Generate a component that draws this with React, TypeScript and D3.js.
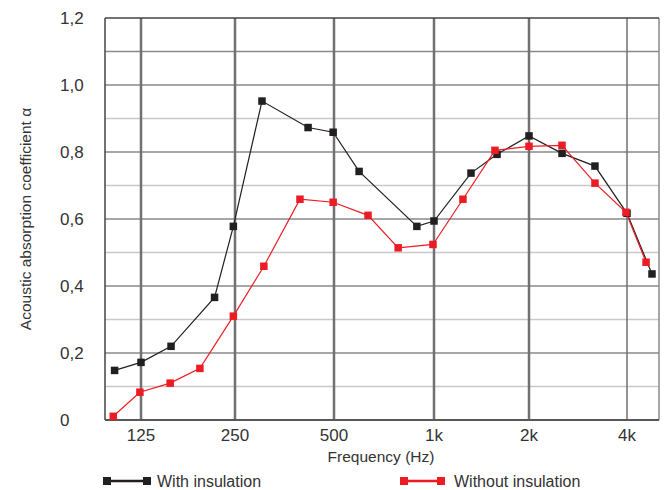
import React from "react";
import * as d3 from "d3";

const yTicks = [0, 0.2, 0.4, 0.6, 0.8, 1.0, 1.2];
const yTickLabels = ["0", "0,2", "0,4", "0,6", "0,8", "1,0", "1,2"];
const yGrid = [0.1, 0.2, 0.3, 0.4, 0.5, 0.6, 0.7, 0.8, 0.9, 1.0, 1.1];
const xTicks = [125, 250, 500, 1000, 2000, 4000];
const xTickLabels = ["125", "250", "500", "1k", "2k", "4k"];

const withFreq = [103, 125, 156, 215, 247, 302, 417, 497, 595, 888, 1000, 1310, 1584, 2000, 2526, 3189, 4000, 4784];
const withVals = [0.148, 0.172, 0.22, 0.366, 0.578, 0.952, 0.873, 0.859, 0.742, 0.578, 0.594, 0.737, 0.793, 0.848, 0.796, 0.758, 0.617, 0.436];

const withoutFreq = [102, 124, 155, 193, 247, 306, 394, 497, 633, 780, 993, 1235, 1560, 2000, 2526, 3189, 3970, 4585];
const withoutVals = [0.011, 0.083, 0.11, 0.154, 0.31, 0.459, 0.659, 0.65, 0.611, 0.514, 0.524, 0.659, 0.805, 0.817, 0.82, 0.707, 0.62, 0.471];

const BLACK = "#231f20";
const RED = "#ed1c24";
const FONT = "'Liberation Sans', Arial, Helvetica, sans-serif";

export default function App() {
  const W = 666, H = 490;
  const left = 105, right = 659, top = 18, bottom = 420;
  const x = d3
    .scaleLog()
    .domain([96, 125, 250, 500, 1000, 2000, 4000, 5030])
    .range([left, 141, 235, 334, 434, 529, 627, right]);
  const y = d3.scaleLinear().domain([0, 1.2]).range([bottom, top]);

  const line = d3
    .line<[number, number]>()
    .x((d) => x(d[0]))
    .y((d) => y(d[1]));

  const series = [
    { freq: withFreq, vals: withVals, color: BLACK },
    { freq: withoutFreq, vals: withoutVals, color: RED },
  ];
  const sq = 7.5;

  return (
    <svg width={W} height={H} style={{ position: "absolute", left: 0, top: 0 }} fontFamily={FONT}>
      <rect x={0} y={0} width={W} height={H} fill="#fff" />
      {yGrid.map((v, i) => {
        const major = Math.abs((v * 10) % 2) < 0.01 || Math.abs(v - 1.1) < 0.01;
        return (
          <line
            key={"hg" + i}
            x1={left}
            x2={right}
            y1={y(v)}
            y2={y(v)}
            stroke={major ? "#8a8a8c" : "#c9c9c9"}
            strokeWidth={1.5}
          />
        );
      })}
      {xTicks.map((f, i) => (
        <line
          key={"vg" + i}
          x1={x(f)}
          x2={x(f)}
          y1={top}
          y2={bottom}
          stroke="#717174"
          strokeWidth={f === 4000 ? 1.5 : 2.5}
        />
      ))}
      <line x1={right} x2={right} y1={top} y2={bottom} stroke="#8a8a8c" strokeWidth={1.5} />
      <line x1={left} x2={right} y1={top} y2={top} stroke="#444" strokeWidth={1.5} />
      <line x1={left} x2={left} y1={top} y2={bottom} stroke="#444" strokeWidth={1.5} />
      <line x1={left} x2={right} y1={bottom} y2={bottom} stroke="#58585a" strokeWidth={2} />

      {yTicks.map((v, i) => (
        <text key={"yl" + i} x={60} y={y(v) + 6} fontSize={17} fill="#333">
          {yTickLabels[i]}
        </text>
      ))}
      {xTicks.map((f, i) => (
        <text key={"xl" + i} x={x(f)} y={441} fontSize={17} fill="#333" textAnchor="middle">
          {xTickLabels[i]}
        </text>
      ))}
      <text x={381} y={462} fontSize={15.5} fill="#333" textAnchor="middle">
        Frequency (Hz)
      </text>
      <text
        transform={`translate(31, ${(top + bottom) / 2}) rotate(-90)`}
        fontSize={15.5}
        fill="#333"
        textAnchor="middle"
      >
        Acoustic absorption coefficient  α
      </text>

      {series.map((s, si) => {
        const pts: [number, number][] = s.freq.map((f, i) => [f, s.vals[i]]);
        return (
          <g key={"s" + si}>
            <path d={line(pts) || ""} fill="none" stroke={s.color} strokeWidth={1.2} />
            {pts.map((p, i) => (
              <rect
                key={i}
                x={x(p[0]) - sq / 2}
                y={y(p[1]) - sq / 2}
                width={sq}
                height={sq}
                fill={s.color}
              />
            ))}
          </g>
        );
      })}

      <g>
        <line x1={107} x2={147} y1={481} y2={481} stroke={BLACK} strokeWidth={2.5} />
        <rect x={103} y={477} width={8} height={8} fill={BLACK} />
        <rect x={143} y={477} width={8} height={8} fill={BLACK} />
        <text x={157} y={487} fontSize={16} fill="#333">With insulation</text>
      </g>
      <g>
        <line x1={404} x2={441} y1={481} y2={481} stroke={RED} strokeWidth={2.5} />
        <rect x={400} y={477} width={8} height={8} fill={RED} />
        <rect x={437} y={477} width={8} height={8} fill={RED} />
        <text x={454} y={487} fontSize={16} fill="#333">Without insulation</text>
      </g>
    </svg>
  );
}
